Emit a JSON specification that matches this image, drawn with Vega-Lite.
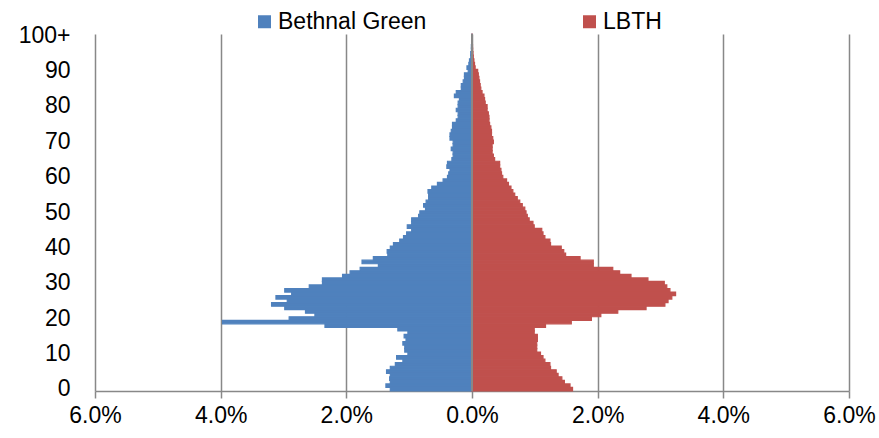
{
"$schema": "https://vega.github.io/schema/vega-lite/v6.json",
"width": 754, "height": 357,
"autosize": {"type": "none"},
"padding": {"left": 95, "top": 34, "right": 30, "bottom": 47},
"config": {"view": {"stroke": null}, "font": "Liberation Sans"},
"data": {"values": [
{"age":0,"area":"Bethnal Green","pct":-1.30},{"age":1,"area":"Bethnal Green","pct":-1.37},{"age":2,"area":"Bethnal Green","pct":-1.30},{"age":3,"area":"Bethnal Green","pct":-1.31},{"age":4,"area":"Bethnal Green","pct":-1.30},{"age":5,"area":"Bethnal Green","pct":-1.36},{"age":6,"area":"Bethnal Green","pct":-1.30},{"age":7,"area":"Bethnal Green","pct":-1.22},{"age":8,"area":"Bethnal Green","pct":-1.10},{"age":9,"area":"Bethnal Green","pct":-1.20},
{"age":10,"area":"Bethnal Green","pct":-1.02},{"age":11,"area":"Bethnal Green","pct":-1.07},{"age":12,"area":"Bethnal Green","pct":-1.07},{"age":13,"area":"Bethnal Green","pct":-1.10},{"age":14,"area":"Bethnal Green","pct":-1.05},{"age":15,"area":"Bethnal Green","pct":-1.08},{"age":16,"area":"Bethnal Green","pct":-1.02},{"age":17,"area":"Bethnal Green","pct":-1.18},{"age":18,"area":"Bethnal Green","pct":-2.34},{"age":19,"area":"Bethnal Green","pct":-3.97},
{"age":20,"area":"Bethnal Green","pct":-2.91},{"age":21,"area":"Bethnal Green","pct":-2.50},{"age":22,"area":"Bethnal Green","pct":-2.65},{"age":23,"area":"Bethnal Green","pct":-2.98},{"age":24,"area":"Bethnal Green","pct":-3.19},{"age":25,"area":"Bethnal Green","pct":-2.94},{"age":26,"area":"Bethnal Green","pct":-3.12},{"age":27,"area":"Bethnal Green","pct":-2.87},{"age":28,"area":"Bethnal Green","pct":-2.98},{"age":29,"area":"Bethnal Green","pct":-2.59},
{"age":30,"area":"Bethnal Green","pct":-2.38},{"age":31,"area":"Bethnal Green","pct":-2.38},{"age":32,"area":"Bethnal Green","pct":-2.06},{"age":33,"area":"Bethnal Green","pct":-1.94},{"age":34,"area":"Bethnal Green","pct":-1.78},{"age":35,"area":"Bethnal Green","pct":-1.49},{"age":36,"area":"Bethnal Green","pct":-1.75},{"age":37,"area":"Bethnal Green","pct":-1.57},{"age":38,"area":"Bethnal Green","pct":-1.34},{"age":39,"area":"Bethnal Green","pct":-1.35},
{"age":40,"area":"Bethnal Green","pct":-1.30},{"age":41,"area":"Bethnal Green","pct":-1.25},{"age":42,"area":"Bethnal Green","pct":-1.15},{"age":43,"area":"Bethnal Green","pct":-1.09},{"age":44,"area":"Bethnal Green","pct":-1.04},{"age":45,"area":"Bethnal Green","pct":-0.96},{"age":46,"area":"Bethnal Green","pct":-1.03},{"age":47,"area":"Bethnal Green","pct":-0.96},{"age":48,"area":"Bethnal Green","pct":-0.96},{"age":49,"area":"Bethnal Green","pct":-0.85},
{"age":50,"area":"Bethnal Green","pct":-0.83},{"age":51,"area":"Bethnal Green","pct":-0.74},{"age":52,"area":"Bethnal Green","pct":-0.77},{"age":53,"area":"Bethnal Green","pct":-0.73},{"age":54,"area":"Bethnal Green","pct":-0.69},{"age":55,"area":"Bethnal Green","pct":-0.69},{"age":56,"area":"Bethnal Green","pct":-0.70},{"age":57,"area":"Bethnal Green","pct":-0.64},{"age":58,"area":"Bethnal Green","pct":-0.55},{"age":59,"area":"Bethnal Green","pct":-0.46},
{"age":60,"area":"Bethnal Green","pct":-0.39},{"age":61,"area":"Bethnal Green","pct":-0.37},{"age":62,"area":"Bethnal Green","pct":-0.35},{"age":63,"area":"Bethnal Green","pct":-0.40},{"age":64,"area":"Bethnal Green","pct":-0.39},{"age":65,"area":"Bethnal Green","pct":-0.32},{"age":66,"area":"Bethnal Green","pct":-0.30},{"age":67,"area":"Bethnal Green","pct":-0.30},{"age":68,"area":"Bethnal Green","pct":-0.33},{"age":69,"area":"Bethnal Green","pct":-0.30},
{"age":70,"area":"Bethnal Green","pct":-0.30},{"age":71,"area":"Bethnal Green","pct":-0.35},{"age":72,"area":"Bethnal Green","pct":-0.35},{"age":73,"area":"Bethnal Green","pct":-0.33},{"age":74,"area":"Bethnal Green","pct":-0.31},{"age":75,"area":"Bethnal Green","pct":-0.31},{"age":76,"area":"Bethnal Green","pct":-0.25},{"age":77,"area":"Bethnal Green","pct":-0.22},{"age":78,"area":"Bethnal Green","pct":-0.22},{"age":79,"area":"Bethnal Green","pct":-0.25},
{"age":80,"area":"Bethnal Green","pct":-0.22},{"age":81,"area":"Bethnal Green","pct":-0.22},{"age":82,"area":"Bethnal Green","pct":-0.20},{"age":83,"area":"Bethnal Green","pct":-0.28},{"age":84,"area":"Bethnal Green","pct":-0.25},{"age":85,"area":"Bethnal Green","pct":-0.17},{"age":86,"area":"Bethnal Green","pct":-0.17},{"age":87,"area":"Bethnal Green","pct":-0.14},{"age":88,"area":"Bethnal Green","pct":-0.12},{"age":89,"area":"Bethnal Green","pct":-0.12},
{"age":90,"area":"Bethnal Green","pct":-0.06},{"age":91,"area":"Bethnal Green","pct":-0.08},{"age":92,"area":"Bethnal Green","pct":-0.05},{"age":93,"area":"Bethnal Green","pct":-0.04},{"age":94,"area":"Bethnal Green","pct":-0.02},{"age":95,"area":"Bethnal Green","pct":-0.02},{"age":96,"area":"Bethnal Green","pct":-0.01},{"age":97,"area":"Bethnal Green","pct":-0.01},{"age":98,"area":"Bethnal Green","pct":-0.005},{"age":99,"area":"Bethnal Green","pct":-0.003},{"age":100,"area":"Bethnal Green","pct":-0.003},
{"age":0,"area":"LBTH","pct":1.60},{"age":1,"area":"LBTH","pct":1.56},{"age":2,"area":"LBTH","pct":1.47},{"age":3,"area":"LBTH","pct":1.43},{"age":4,"area":"LBTH","pct":1.37},{"age":5,"area":"LBTH","pct":1.34},{"age":6,"area":"LBTH","pct":1.25},{"age":7,"area":"LBTH","pct":1.24},{"age":8,"area":"LBTH","pct":1.16},{"age":9,"area":"LBTH","pct":1.13},
{"age":10,"area":"LBTH","pct":1.09},{"age":11,"area":"LBTH","pct":1.03},{"age":12,"area":"LBTH","pct":1.03},{"age":13,"area":"LBTH","pct":1.03},{"age":14,"area":"LBTH","pct":1.04},{"age":15,"area":"LBTH","pct":1.04},{"age":16,"area":"LBTH","pct":0.99},{"age":17,"area":"LBTH","pct":0.99},{"age":18,"area":"LBTH","pct":1.17},{"age":19,"area":"LBTH","pct":1.58},
{"age":20,"area":"LBTH","pct":1.90},{"age":21,"area":"LBTH","pct":2.05},{"age":22,"area":"LBTH","pct":2.32},{"age":23,"area":"LBTH","pct":2.77},{"age":24,"area":"LBTH","pct":3.07},{"age":25,"area":"LBTH","pct":3.12},{"age":26,"area":"LBTH","pct":3.18},{"age":27,"area":"LBTH","pct":3.24},{"age":28,"area":"LBTH","pct":3.15},{"age":29,"area":"LBTH","pct":3.10},
{"age":30,"area":"LBTH","pct":3.06},{"age":31,"area":"LBTH","pct":2.80},{"age":32,"area":"LBTH","pct":2.53},{"age":33,"area":"LBTH","pct":2.35},{"age":34,"area":"LBTH","pct":2.24},{"age":35,"area":"LBTH","pct":1.93},{"age":36,"area":"LBTH","pct":1.93},{"age":37,"area":"LBTH","pct":1.72},{"age":38,"area":"LBTH","pct":1.49},{"age":39,"area":"LBTH","pct":1.46},
{"age":40,"area":"LBTH","pct":1.42},{"age":41,"area":"LBTH","pct":1.25},{"age":42,"area":"LBTH","pct":1.24},{"age":43,"area":"LBTH","pct":1.16},{"age":44,"area":"LBTH","pct":1.13},{"age":45,"area":"LBTH","pct":1.11},{"age":46,"area":"LBTH","pct":0.99},{"age":47,"area":"LBTH","pct":0.97},{"age":48,"area":"LBTH","pct":0.91},{"age":49,"area":"LBTH","pct":0.88},
{"age":50,"area":"LBTH","pct":0.86},{"age":51,"area":"LBTH","pct":0.84},{"age":52,"area":"LBTH","pct":0.80},{"age":53,"area":"LBTH","pct":0.76},{"age":54,"area":"LBTH","pct":0.72},{"age":55,"area":"LBTH","pct":0.68},{"age":56,"area":"LBTH","pct":0.65},{"age":57,"area":"LBTH","pct":0.62},{"age":58,"area":"LBTH","pct":0.58},{"age":59,"area":"LBTH","pct":0.55},
{"age":60,"area":"LBTH","pct":0.49},{"age":61,"area":"LBTH","pct":0.47},{"age":62,"area":"LBTH","pct":0.46},{"age":63,"area":"LBTH","pct":0.44},{"age":64,"area":"LBTH","pct":0.44},{"age":65,"area":"LBTH","pct":0.36},{"age":66,"area":"LBTH","pct":0.34},{"age":67,"area":"LBTH","pct":0.32},{"age":68,"area":"LBTH","pct":0.32},{"age":69,"area":"LBTH","pct":0.32},
{"age":70,"area":"LBTH","pct":0.34},{"age":71,"area":"LBTH","pct":0.33},{"age":72,"area":"LBTH","pct":0.31},{"age":73,"area":"LBTH","pct":0.31},{"age":74,"area":"LBTH","pct":0.30},{"age":75,"area":"LBTH","pct":0.28},{"age":76,"area":"LBTH","pct":0.27},{"age":77,"area":"LBTH","pct":0.27},{"age":78,"area":"LBTH","pct":0.26},{"age":79,"area":"LBTH","pct":0.24},
{"age":80,"area":"LBTH","pct":0.24},{"age":81,"area":"LBTH","pct":0.21},{"age":82,"area":"LBTH","pct":0.20},{"age":83,"area":"LBTH","pct":0.19},{"age":84,"area":"LBTH","pct":0.16},{"age":85,"area":"LBTH","pct":0.14},{"age":86,"area":"LBTH","pct":0.13},{"age":87,"area":"LBTH","pct":0.12},{"age":88,"area":"LBTH","pct":0.11},{"age":89,"area":"LBTH","pct":0.10},
{"age":90,"area":"LBTH","pct":0.09},{"age":91,"area":"LBTH","pct":0.05},{"age":92,"area":"LBTH","pct":0.04},{"age":93,"area":"LBTH","pct":0.03},{"age":94,"area":"LBTH","pct":0.02},{"age":95,"area":"LBTH","pct":0.015},{"age":96,"area":"LBTH","pct":0.01},{"age":97,"area":"LBTH","pct":0.008},{"age":98,"area":"LBTH","pct":0.005},{"age":99,"area":"LBTH","pct":0.003},{"age":100,"area":"LBTH","pct":0.003}
]},
"layer": [
{"mark": {"type": "bar", "strokeWidth": 1.2},
 "encoding": {
  "y": {"field": "age", "type": "ordinal", "sort": "descending",
        "scale": {"paddingInner": 0, "paddingOuter": 0},
        "axis": {"title": null, "values": [0,10,20,30,40,50,60,70,80,90,100],
                 "labelExpr": "datum.value == 100 ? '100+' : '' + datum.value",
                 "ticks": false, "domain": false, "grid": false, "labelPadding": 25,
                 "labelFontSize": 23, "labelColor": "#000000", "labelOverlap": false, "labelFont": "Liberation Sans"}},
  "x": {"field": "pct", "type": "quantitative",
        "scale": {"domain": [-6, 6], "nice": false},
        "axis": {"title": null, "values": [-6,-4,-2,0,2,4,6],
                 "labelExpr": "format(abs(datum.value), '.1f') + '%'",
                 "grid": true, "gridColor": "#888888", "gridWidth": 1.5,
                 "domainColor": "#888888", "domainWidth": 1.5,
                 "tickColor": "#888888", "tickWidth": 1.5, "tickSize": 7,
                 "labelPadding": 6, "labelFontSize": 23, "labelColor": "#000000", "labelFont": "Liberation Sans", "labelFlush": false}},
  "color": {"field": "area", "type": "nominal",
            "scale": {"domain": ["Bethnal Green", "LBTH"], "range": ["#4F81BD", "#C0504D"]},
            "legend": {"title": null, "orient": "none", "legendX": 158, "legendY": -24, "direction": "horizontal",
                       "symbolType": "square", "symbolSize": 169, "symbolStrokeWidth": 0, "labelFontSize": 23,
                       "labelColor": "#000000", "labelFont": "Liberation Sans", "labelOffset": 2, "columnPadding": 151, "padding": 0}},
  "stroke": {"field": "area", "type": "nominal",
             "scale": {"domain": ["Bethnal Green", "LBTH"], "range": ["#4F81BD", "#C0504D"]},
             "legend": null}
 }},
{"mark": {"type": "rule", "color": "#888888", "strokeWidth": 1.5},
 "encoding": {"x": {"datum": 0}}}
]
}
